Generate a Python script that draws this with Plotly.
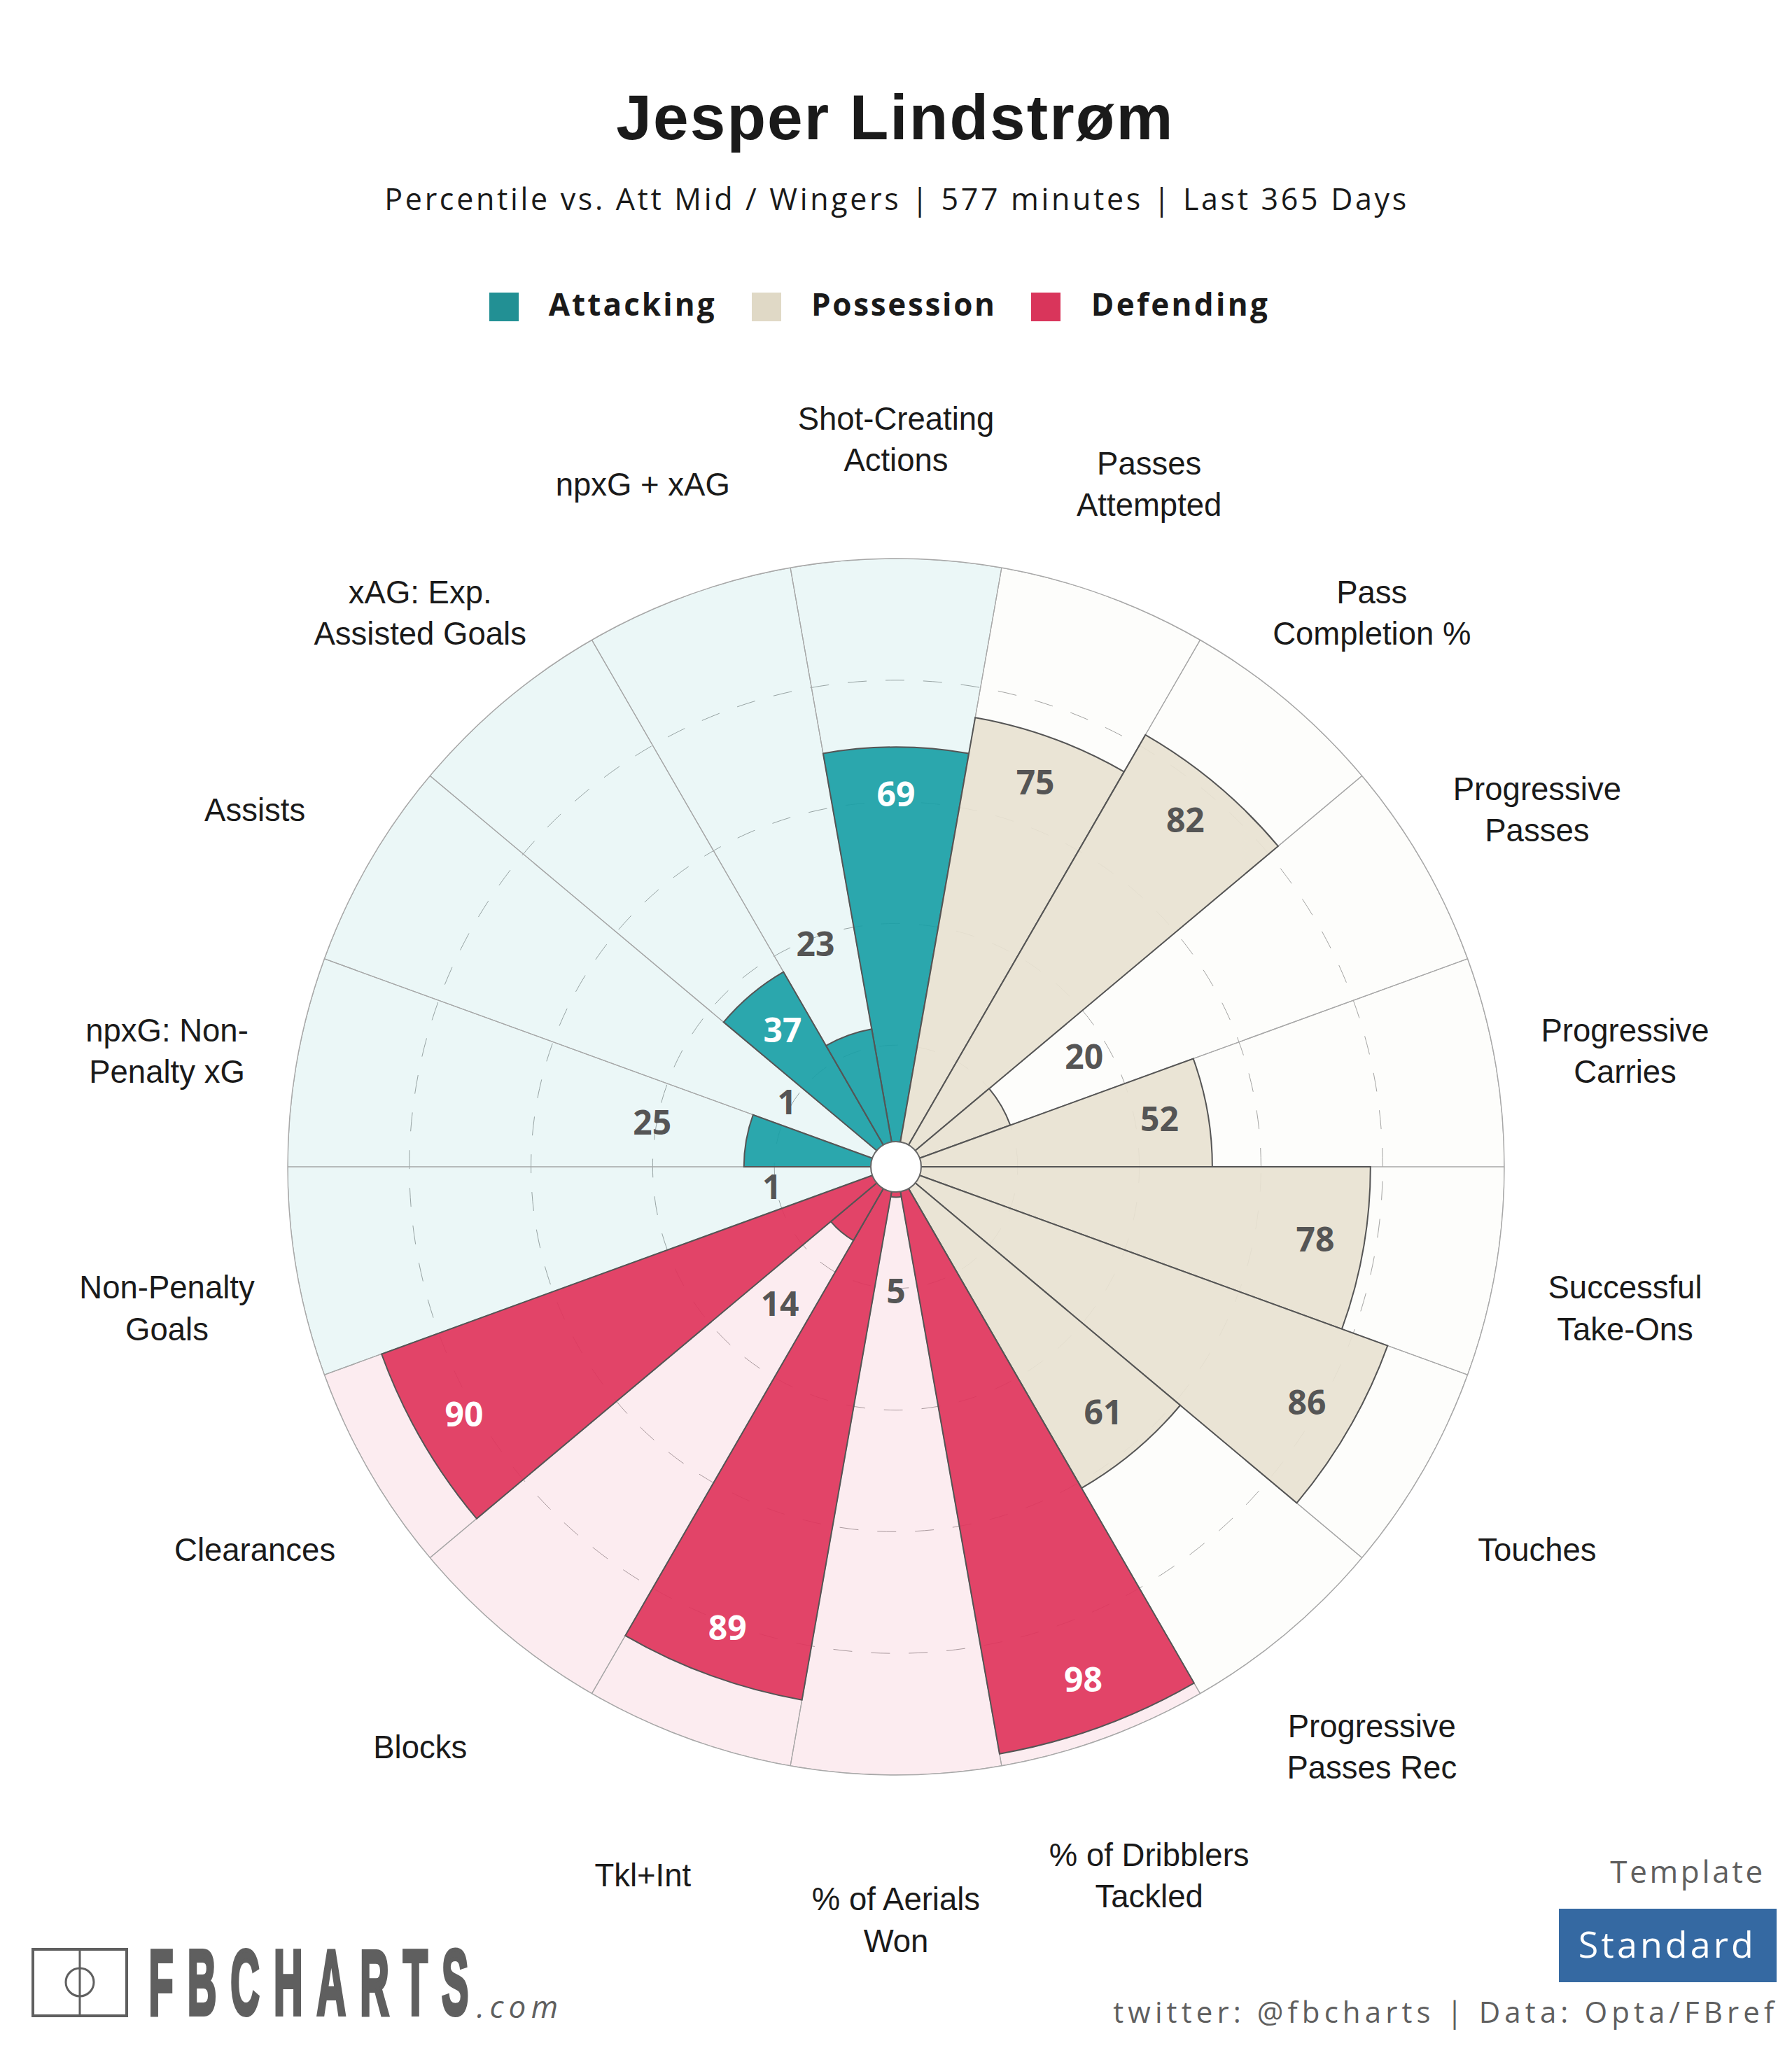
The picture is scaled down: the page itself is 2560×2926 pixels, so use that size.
import json
import plotly.graph_objects as go

# ---------- data ----------
categories = ["Shot-Creating<br>Actions", "Passes<br>Attempted", "Pass<br>Completion %",
              "Progressive<br>Passes", "Progressive<br>Carries", "Successful<br>Take-Ons",
              "Touches", "Progressive<br>Passes Rec", "% of Dribblers<br>Tackled",
              "% of Aerials<br>Won", "Tkl+Int", "Blocks", "Clearances",
              "Non-Penalty<br>Goals", "npxG: Non-<br>Penalty xG", "Assists",
              "xAG: Exp.<br>Assisted Goals", "npxG + xAG"]
values = [69, 75, 82, 20, 52, 78, 86, 61, 98, 5, 89, 14, 90, 1, 25, 1, 37, 23]
groups = ["Attacking", "Possession", "Possession", "Possession", "Possession", "Possession",
          "Possession", "Possession", "Defending", "Defending", "Defending", "Defending",
          "Defending", "Attacking", "Attacking", "Attacking", "Attacking", "Attacking"]
legend_names = ["Attacking", "Possession", "Defending"]
grid_ticks = [20, 40, 60, 80]

title_text = "Jesper Lindstrøm"
subtitle_text = "Percentile vs. Att Mid / Wingers | 577 minutes | Last 365 Days"

# ---------- styles ----------
W, H = 2560, 2926
CX, CY, R = 1280, 1667, 869
LABEL_SHIFT = 23
VALUE_SHIFT = 3
LABEL_R = 121.7
LABEL_MAX = 130
fill = {"Attacking": "rgba(26,159,166,0.92)", "Possession": "rgba(232,226,209,0.92)",
        "Defending": "rgba(223,53,92,0.92)"}
tint = {"Attacking": "rgba(34,168,170,0.09)", "Possession": "rgba(180,180,140,0.03)",
        "Defending": "rgba(226,71,107,0.10)"}
swatch = {"Attacking": "#229094", "Possession": "#E0D9C6", "Defending": "#D9355B"}
DARK, GREY = "#1a1a1a", "#5f5f5f"
UI = "Open Sans"
ARIAL = "Liberation Sans"


def px(x):
    return x / W


def py(y):
    return 1 - y / H


def label_r(v):
    return v - 8 if v >= 30 else max(v + 15.7, 20.7)


def label_colour(v, g):
    return "#ffffff" if v >= 30 and g != "Possession" else "#555555"


fig = go.Figure()
fig.add_trace(go.Barpolar(
    r=[100] * len(categories), theta=categories, subplot="polar",
    marker=dict(color=[tint[g] for g in groups], line=dict(color="#a8a8a8", width=1.2)),
    hoverinfo="skip", showlegend=False))
fig.add_trace(go.Barpolar(
    r=values, theta=categories, subplot="polar",
    marker=dict(color=[fill[g] for g in groups], line=dict(color="#555555", width=2)),
    showlegend=False))
fig.add_trace(go.Scatterpolar(
    r=[0], theta=categories[:1], subplot="polar", mode="markers", cliponaxis=False,
    marker=dict(size=72, color="white", line=dict(color="#666666", width=2)),
    hoverinfo="skip", showlegend=False))
fig.add_trace(go.Scatterpolar(
    r=[label_r(v) for v in values], theta=categories, subplot="polar3", mode="text",
    text=[str(v) for v in values], textposition="middle center", cliponaxis=False,
    textfont=dict(family=UI, size=48, weight=700,
                  color=[label_colour(v, g) for v, g in zip(values, groups)]),
    hoverinfo="skip", showlegend=False))
fig.add_trace(go.Scatterpolar(
    r=[LABEL_R] * len(categories), theta=categories, subplot="polar2", mode="text",
    text=categories, textposition="middle center", cliponaxis=False,
    textfont=dict(family=ARIAL, size=45.5, color=DARK),
    hoverinfo="skip", showlegend=False))

angular = dict(rotation=90, direction="clockwise", type="category", categoryorder="array",
               categoryarray=categories, showticklabels=False, ticks="", showgrid=False)
R2 = R * LABEL_MAX / 100
fig.update_layout(
    width=W, height=H, margin=dict(l=0, r=0, t=0, b=0), autosize=False,
    paper_bgcolor="white", plot_bgcolor="white",
    polar=dict(
        domain=dict(x=[px(CX - R), px(CX + R)], y=[py(CY + R), py(CY - R)]),
        bgcolor="rgba(0,0,0,0)", barmode="overlay", bargap=0,
        radialaxis=dict(range=[0, 100], tickvals=grid_ticks, showticklabels=False, ticks="",
                        showline=False, showgrid=True, gridcolor="#a4a4a4", gridwidth=1.4,
                        griddash="27px,27px"),
        angularaxis=dict(**angular, showline=True, linecolor="#a8a8a8", linewidth=1.4)),
    polar2=dict(
        domain=dict(x=[px(CX - R2), px(CX + R2)],
                    y=[py(CY + LABEL_SHIFT + R2), py(CY + LABEL_SHIFT - R2)]),
        bgcolor="rgba(0,0,0,0)",
        radialaxis=dict(range=[0, LABEL_MAX], visible=False),
        angularaxis=dict(**angular, showline=False)),
    polar3=dict(
        domain=dict(x=[px(CX - R), px(CX + R)],
                    y=[py(CY + VALUE_SHIFT + R), py(CY + VALUE_SHIFT - R)]),
        bgcolor="rgba(0,0,0,0)",
        radialaxis=dict(range=[0, 100], visible=False),
        angularaxis=dict(**angular, showline=False)))

# ---------- text blocks: text, centre x, centre y, font, size, colour, weight, style, target width ----------
blocks = [
    (title_text, 1278, 168, ARIAL, 91, DARK, 700, "normal", 795),
    (subtitle_text, 1279, 283, UI, 43, DARK, 400, "normal", 1460),
    (legend_names[0], 902, 434, UI, 44, DARK, 700, "normal", 237),
    (legend_names[1], 1290, 434, UI, 44, DARK, 700, "normal", 262),
    (legend_names[2], 1685, 434, UI, 44, DARK, 700, "normal", 252),
    ("Template", 2409, 2673, UI, 44, GREY, 400, "normal", 218),
    ("Standard", 2380, 2776, UI, 52, "white", 400, "normal", 250),
    ("twitter: @fbcharts | Data: Opta/FBref", 2063, 2873, UI, 42, GREY, 400, "normal", 944),
    (".com", 739, 2866, UI, 44, GREY, 400, "italic", 116),
    ("FBCHARTS", 451, 2832, ARIAL, 132, GREY, 700, "normal", None),
]
fig.update_layout(annotations=[
    dict(text=t, x=px(x), y=py(y), xref="paper", yref="paper", xanchor="center", yanchor="middle",
         showarrow=False, font=dict(family=f, size=s, color=c, weight=w, style=st))
    for t, x, y, f, s, c, w, st, _ in blocks])

# ---------- shapes: legend swatches, template box, logo pitch ----------
shapes = []
for name, x0 in zip(legend_names, [699, 1074, 1473]):
    shapes.append(dict(type="rect", xref="paper", yref="paper", x0=px(x0), x1=px(x0 + 42),
                       y0=py(459), y1=py(418), fillcolor=swatch[name], line_width=0))
shapes.append(dict(type="rect", xref="paper", yref="paper", x0=px(2227), x1=px(2538),
                   y0=py(2832), y1=py(2727), fillcolor="#3569A2", line_width=0, layer="below"))
logo_line = dict(color=GREY, width=4)
shapes.append(dict(type="rect", xref="paper", yref="paper", x0=px(47), x1=px(181),
                   y0=py(2880), y1=py(2785), line=logo_line))
shapes.append(dict(type="line", xref="paper", yref="paper", x0=px(114), x1=px(114),
                   y0=py(2880), y1=py(2785), line=dict(color=GREY, width=3)))
shapes.append(dict(type="circle", xref="paper", yref="paper", x0=px(94), x1=px(134),
                   y0=py(2852), y1=py(2812), line=dict(color=GREY, width=3)))
fig.update_layout(shapes=shapes)

widths = {t: w for t, *_, w in blocks if w}
post = """
document.body.style.margin = '0';
var widths = %s;
document.querySelectorAll('.annotation-text').forEach(function (t) {
  var w = widths[t.textContent];
  if (w) { t.setAttribute('textLength', w); t.setAttribute('lengthAdjust', 'spacing'); }
  if (t.textContent === 'FBCHARTS') {
    t.style.letterSpacing = '46px';
    t.style.stroke = '#5f5f5f';
    t.style.strokeWidth = '6px';
    t.style.transformBox = 'fill-box';
    t.style.transformOrigin = 'center';
    t.style.transform = 'scaleX(0.436)';
  }
});
""" % json.dumps(widths)

fig.write_html("out.html", post_script=post, config={"displayModeBar": False})
